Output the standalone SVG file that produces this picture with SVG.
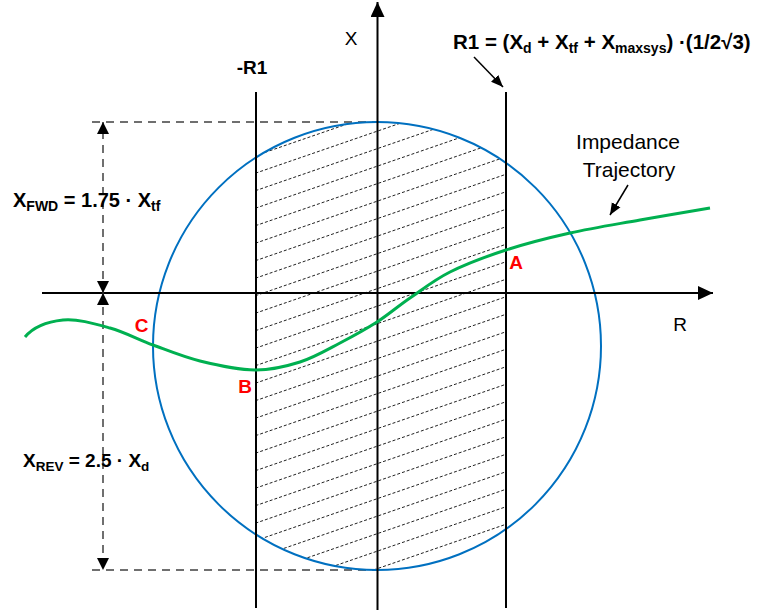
<svg xmlns="http://www.w3.org/2000/svg" width="757" height="613" viewBox="0 0 757 613">
<style>
.ax{stroke:#000;stroke-width:2;fill:none}
.vl{stroke:#000;stroke-width:2;fill:none}
.dash{stroke:#404040;stroke-width:1.5;stroke-dasharray:8 6;fill:none}
.hatch{stroke:#222;stroke-width:1;stroke-dasharray:3 2;fill:none}
.circ{stroke:#0070C0;stroke-width:2;fill:none}
.traj{stroke:#00B050;stroke-width:3;fill:none}
.ptr{stroke:#000;stroke-width:1.5;fill:none}
text{font-family:"Liberation Sans",Arial,sans-serif;fill:#000}
.b{font-weight:bold}
.red{fill:#FF0000;font-weight:bold;font-size:19px}
</style>
<defs>
<marker id="axh" markerUnits="userSpaceOnUse" markerWidth="16" markerHeight="14" refX="15" refY="7" orient="auto-start-reverse" viewBox="0 0 16 14"><path d="M0,0 L15,7 L0,14 z" fill="#000"/></marker>
<marker id="dh" markerUnits="userSpaceOnUse" markerWidth="13" markerHeight="12" refX="12" refY="6" orient="auto-start-reverse" viewBox="0 0 13 12"><path d="M0,0 L12,6 L0,12 z" fill="#000"/></marker>
<marker id="ph" markerUnits="userSpaceOnUse" markerWidth="13" markerHeight="12" refX="12" refY="5" orient="auto" viewBox="0 0 13 10"><path d="M0,0 L12,5 L0,10 z" fill="#000"/></marker>
<clipPath id="rc"><rect x="256" y="0" width="250" height="613"/></clipPath>
<clipPath id="cc"><circle cx="377" cy="346" r="224"/></clipPath>
</defs>

<g id="hatching" clip-path="url(#rc)">
<g clip-path="url(#cc)">
<path class="hatch" d="M246,88.95L516,-4.2M246,106.45L516,13.3M246,123.95L516,30.8M246,141.45L516,48.3M246,158.95L516,65.8M246,176.45L516,83.3M246,193.95L516,100.8M246,211.45L516,118.3M246,228.95L516,135.8M246,246.45L516,153.3M246,263.95L516,170.8M246,281.45L516,188.3M246,298.95L516,205.8M246,316.45L516,223.3M246,333.95L516,240.8M246,351.45L516,258.3M246,368.95L516,275.8M246,386.45L516,293.3M246,403.95L516,310.8M246,421.45L516,328.3M246,438.95L516,345.8M246,456.45L516,363.3M246,473.95L516,380.8M246,491.45L516,398.3M246,508.95L516,415.8M246,526.45L516,433.3M246,543.95L516,450.8M246,561.45L516,468.3M246,578.95L516,485.8M246,596.45L516,503.3M246,613.95L516,520.8M246,631.45L516,538.3M246,648.95L516,555.8M246,666.45L516,573.3"/>
</g>
</g>

<g id="limits">
<line class="dash" x1="92" y1="122" x2="377" y2="122"/>
<line class="dash" x1="92" y1="570" x2="377" y2="570"/>
</g>

<g id="circle"><circle class="circ" cx="377" cy="346" r="224"/></g>

<g id="r1-lines">
<line class="vl" x1="256" y1="92" x2="256" y2="608"/>
<line class="vl" x1="506" y1="92" x2="506" y2="608"/>
</g>

<g id="connectors">
<line class="ax" x1="42" y1="293" x2="713" y2="293" marker-end="url(#axh)"/>
<line class="ax" x1="377.5" y1="610" x2="377.5" y2="2" marker-end="url(#axh)"/>
<line class="dash" x1="103" y1="293" x2="103" y2="122" marker-start="url(#dh)" marker-end="url(#dh)"/>
<line class="dash" x1="103" y1="293" x2="103" y2="570" marker-start="url(#dh)" marker-end="url(#dh)"/>
<line class="ptr" x1="474" y1="57" x2="503" y2="87" marker-end="url(#ph)"/>
<line class="ptr" x1="628" y1="185" x2="610" y2="215" marker-end="url(#ph)"/>
</g>

<g id="trajectory">
<path class="traj" d="M25,337 C35,325 48.8,321.5 63,320 C77.2,318.5 95,323.8 110,328 C125,332.2 138,339.5 153,345 C168,350.5 183,356.8 200,361 C217,365.2 238.3,369.8 255,370 C271.7,370.2 285.8,366.5 300,362 C314.2,357.5 327.2,349.7 340,343 C352.8,336.3 365.3,329.5 377,322 C388.7,314.5 397.8,306.3 410,298 C422.2,289.7 434,280 450,272 C466,264 486,256.5 506,250 C526,243.5 547.7,238 570,233 C592.3,228 616.7,224.2 640,220 C663.3,215.8 698.3,210 710,208"/>
</g>

<g id="labels">
<text x="351" y="45" font-size="19" text-anchor="middle">X</text>
<text x="680" y="331" font-size="19" text-anchor="middle">R</text>
<text x="628" y="149" font-size="21" text-anchor="middle">Impedance</text>
<text x="629" y="177" font-size="21" text-anchor="middle">Trajectory</text>
<text class="b" x="252" y="74" font-size="19" text-anchor="middle">-R1</text>
<text class="b" x="453" y="49" font-size="20.5">R1 = (X<tspan font-size="14" dy="4">d</tspan><tspan dy="-4"> + X</tspan><tspan font-size="14" dy="4">tf</tspan><tspan dy="-4"> + X</tspan><tspan font-size="14" dy="4">maxsys</tspan><tspan dy="-4">) ·(1/2√3)</tspan></text>
<text class="b" x="13" y="207" font-size="20">X<tspan font-size="14" dy="4">FWD</tspan><tspan dy="-4"> = 1.75 · X</tspan><tspan font-size="14" dy="4">tf</tspan></text>
<text class="b" x="23" y="467" font-size="19">X<tspan font-size="13.5" dy="4">REV</tspan><tspan dy="-4"> = 2.5 · X</tspan><tspan font-size="13.5" dy="4">d</tspan></text>
<text class="red" x="516" y="269" text-anchor="middle">A</text>
<text class="red" x="245" y="393" text-anchor="middle">B</text>
<text class="red" x="141.5" y="332" text-anchor="middle">C</text>
</g>
</svg>
